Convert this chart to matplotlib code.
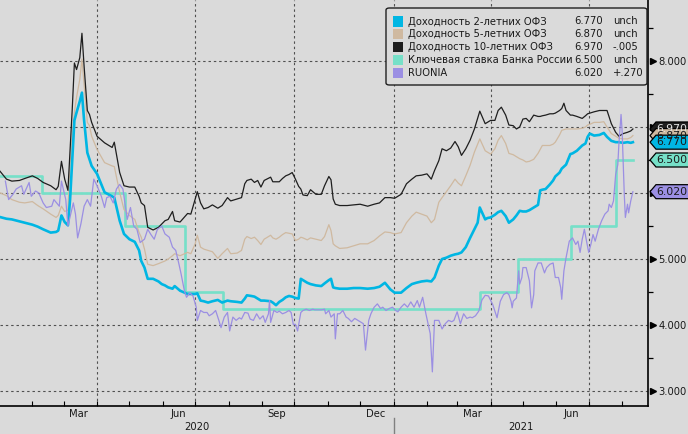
import matplotlib
matplotlib.use("Agg")
import matplotlib.pyplot as plt
import matplotlib.dates as mdates
import matplotlib.transforms as mtransforms
from matplotlib.patches import Polygon, FancyBboxPatch, Rectangle
from matplotlib.lines import Line2D
from matplotlib.ticker import FixedLocator, NullFormatter
import pandas as pd

# ---------------- data ----------------
yield_dates = [
    "2020-01-01", "2020-01-08", "2020-01-13", "2020-01-20", "2020-01-25", "2020-02-01",
    "2020-02-06", "2020-02-11", "2020-02-18", "2020-02-23", "2020-02-25", "2020-02-28",
    "2020-03-02", "2020-03-05", "2020-03-07", "2020-03-09", "2020-03-11", "2020-03-13",
    "2020-03-16", "2020-03-18", "2020-03-20", "2020-03-23", "2020-03-25", "2020-03-27",
    "2020-04-01", "2020-04-08", "2020-04-15", "2020-04-17", "2020-04-22", "2020-04-26",
    "2020-05-01", "2020-05-06", "2020-05-10", "2020-05-12", "2020-05-15", "2020-05-18",
    "2020-05-23", "2020-05-28", "2020-05-31", "2020-06-03", "2020-06-06", "2020-06-10",
    "2020-06-12", "2020-06-17", "2020-06-24", "2020-06-27", "2020-07-01", "2020-07-03",
    "2020-07-06", "2020-07-09", "2020-07-13", "2020-07-17", "2020-07-22", "2020-07-26",
    "2020-07-31", "2020-08-03", "2020-08-09", "2020-08-13", "2020-08-16", "2020-08-18",
    "2020-08-22", "2020-08-25", "2020-08-28", "2020-08-31", "2020-09-03", "2020-09-09",
    "2020-09-11", "2020-09-14", "2020-09-17", "2020-09-20", "2020-09-23", "2020-09-26",
    "2020-09-29", "2020-10-02", "2020-10-05", "2020-10-07", "2020-10-09", "2020-10-13",
    "2020-10-16", "2020-10-21", "2020-10-26", "2020-10-29", "2020-11-02", "2020-11-04",
    "2020-11-06", "2020-11-08", "2020-11-12", "2020-11-19", "2020-11-25", "2020-12-01",
    "2020-12-08", "2020-12-14", "2020-12-19", "2020-12-24", "2020-12-29", "2021-01-02",
    "2021-01-08", "2021-01-13", "2021-01-18", "2021-01-22", "2021-01-27", "2021-02-01",
    "2021-02-05", "2021-02-08", "2021-02-12", "2021-02-15", "2021-02-19", "2021-02-23",
    "2021-02-27", "2021-03-02", "2021-03-05", "2021-03-09", "2021-03-13", "2021-03-17",
    "2021-03-20", "2021-03-22", "2021-03-27", "2021-03-29", "2021-04-01", "2021-04-05",
    "2021-04-08", "2021-04-11", "2021-04-15", "2021-04-18", "2021-04-22", "2021-04-25",
    "2021-04-28", "2021-05-01", "2021-05-04", "2021-05-07", "2021-05-11", "2021-05-15",
    "2021-05-17", "2021-05-19", "2021-05-22", "2021-05-26", "2021-05-29", "2021-05-31",
    "2021-06-04", "2021-06-06", "2021-06-08", "2021-06-10", "2021-06-14", "2021-06-16",
    "2021-06-20", "2021-06-25", "2021-06-28", "2021-06-30", "2021-07-02", "2021-07-06",
    "2021-07-11", "2021-07-15", "2021-07-18", "2021-07-22", "2021-07-26", "2021-07-29",
    "2021-08-02", "2021-08-06", "2021-08-09", "2021-08-11",
]
ofz_2y = [
    5.64, 5.61, 5.60, 5.57, 5.55, 5.52, 5.49, 5.45, 5.40, 5.41, 5.43, 5.66,
    5.56, 5.51, 5.90, 6.51, 7.10, 7.22, 7.39, 7.52, 7.10, 6.61, 6.51, 6.41,
    6.29, 6.01, 5.95, 5.93, 5.58, 5.38, 5.30, 5.26, 5.13, 4.97, 4.87, 4.70,
    4.70, 4.66, 4.62, 4.60, 4.57, 4.55, 4.59, 4.52, 4.47, 4.47, 4.47, 4.48,
    4.37, 4.36, 4.34, 4.36, 4.38, 4.34, 4.37, 4.36, 4.35, 4.34, 4.40, 4.45,
    4.44, 4.43, 4.40, 4.37, 4.37, 4.36, 4.34, 4.30, 4.35, 4.38, 4.42, 4.44,
    4.43, 4.41, 4.40, 4.70, 4.68, 4.64, 4.62, 4.60, 4.59, 4.63, 4.68, 4.70,
    4.57, 4.56, 4.55, 4.55, 4.56, 4.56, 4.55, 4.56, 4.58, 4.64, 4.54, 4.49,
    4.49, 4.56, 4.62, 4.64, 4.66, 4.67, 4.66, 4.72, 4.90, 5.00, 5.02, 5.05,
    5.07, 5.08, 5.10, 5.18, 5.32, 5.45, 5.55, 5.78, 5.60, 5.62, 5.63, 5.67,
    5.71, 5.73, 5.65, 5.55, 5.60, 5.66, 5.73, 5.72, 5.72, 5.74, 5.78, 5.82,
    6.04, 6.05, 6.06, 6.13, 6.19, 6.25, 6.31, 6.37, 6.40, 6.43, 6.59, 6.60,
    6.64, 6.72, 6.75, 6.85, 6.90, 6.87, 6.88, 6.91, 6.85, 6.79, 6.77, 6.77,
    6.76, 6.77, 6.76, 6.77,
]
ofz_5y = [
    6.01, 5.96, 5.90, 5.86, 5.85, 5.87, 5.81, 5.76, 5.68, 5.63, 5.66, 5.80,
    5.72, 5.74, 6.41, 6.86, 7.22, 7.45, 7.72, 8.03, 7.65, 7.07, 7.02, 6.86,
    6.66, 6.46, 6.41, 6.40, 6.01, 5.75, 5.66, 5.60, 5.40, 5.33, 5.15, 4.92,
    4.90, 4.93, 4.95, 4.97, 5.00, 5.05, 5.08, 5.05, 5.10, 5.08, 5.23, 5.36,
    5.18, 5.15, 5.13, 5.11, 5.01, 5.08, 5.16, 5.08, 5.09, 5.13, 5.30, 5.34,
    5.31, 5.33, 5.28, 5.22, 5.30, 5.36, 5.32, 5.30, 5.33, 5.37, 5.40, 5.39,
    5.38, 5.28, 5.30, 5.33, 5.32, 5.29, 5.32, 5.30, 5.28, 5.34, 5.52, 5.43,
    5.23, 5.20, 5.16, 5.17, 5.20, 5.23, 5.23, 5.28, 5.35, 5.41, 5.40, 5.38,
    5.40, 5.55, 5.65, 5.71, 5.68, 5.65, 5.55, 5.60, 5.86, 5.93, 6.02, 6.11,
    6.21, 6.15, 6.11, 6.26, 6.42, 6.62, 6.74, 6.82, 6.64, 6.62, 6.59, 6.67,
    6.80, 6.87, 6.75, 6.60, 6.58, 6.55, 6.52, 6.50, 6.47, 6.48, 6.51, 6.60,
    6.66, 6.72, 6.72, 6.72, 6.74, 6.77, 6.88, 6.95, 6.96, 6.97, 6.97, 6.97,
    6.97, 6.98, 7.00, 7.03, 7.04, 7.07, 7.07, 7.08, 7.00, 6.90, 6.86, 6.83,
    6.82, 6.82, 6.84, 6.87,
]
ofz_10y = [
    6.35, 6.21, 6.18, 6.19, 6.22, 6.26, 6.22, 6.16, 6.11, 6.05, 6.10, 6.48,
    6.21, 6.04, 6.66, 7.27, 7.97, 7.87, 8.05, 8.42, 7.92, 7.25, 7.19, 7.07,
    6.86, 6.76, 6.69, 6.77, 6.31, 6.11, 6.09, 6.09, 5.95, 5.85, 5.81, 5.48,
    5.44, 5.48, 5.53, 5.58, 5.60, 5.72, 5.58, 5.56, 5.69, 5.68, 5.91, 6.02,
    5.85, 5.76, 5.78, 5.82, 5.77, 5.81, 5.93, 5.88, 5.91, 5.93, 6.14, 6.19,
    6.21, 6.16, 6.19, 6.09, 6.19, 6.24, 6.17, 6.17, 6.17, 6.22, 6.26, 6.28,
    6.31, 6.21, 6.10, 6.06, 5.97, 5.96, 6.05, 5.98, 5.98, 6.11, 6.25, 6.20,
    5.91, 5.83, 5.81, 5.81, 5.82, 5.83, 5.80, 5.83, 5.85, 5.93, 5.93, 5.92,
    5.98, 6.14, 6.21, 6.26, 6.27, 6.29, 6.21, 6.34, 6.49, 6.67, 6.64, 6.68,
    6.78, 6.70, 6.57, 6.67, 6.80, 6.97, 7.13, 7.24, 7.05, 7.07, 7.10, 7.10,
    7.25, 7.30, 7.18, 7.03, 7.02, 6.97, 7.00, 7.12, 7.13, 7.08, 7.18, 7.16,
    7.16, 7.17, 7.18, 7.20, 7.20, 7.21, 7.25, 7.28, 7.36, 7.25, 7.18, 7.18,
    7.16, 7.13, 7.17, 7.20, 7.21, 7.23, 7.25, 7.25, 7.25, 7.05, 6.92, 6.86,
    6.90, 6.92, 6.94, 6.97,
]

key_rate_dates = ["2020-01-01", "2020-02-10", "2020-04-27", "2020-06-22", "2020-07-27",
                  "2021-03-22", "2021-04-26", "2021-06-15", "2021-07-26", "2021-08-11"]
key_rate = [6.25, 6.00, 5.50, 4.50, 4.25, 4.50, 5.00, 5.50, 6.50, 6.50]

ruonia_dates = [
    "2020-01-07", "2020-01-10", "2020-01-14", "2020-01-17", "2020-01-22", "2020-01-24",
    "2020-01-29", "2020-01-31", "2020-02-04", "2020-02-07", "2020-02-11", "2020-02-14",
    "2020-02-19", "2020-02-21", "2020-02-26", "2020-02-28", "2020-03-03", "2020-03-05",
    "2020-03-10", "2020-03-12", "2020-03-14", "2020-03-17", "2020-03-20", "2020-03-23",
    "2020-03-26", "2020-03-29", "2020-04-01", "2020-04-05", "2020-04-08", "2020-04-10",
    "2020-04-13", "2020-04-16", "2020-04-19", "2020-04-22", "2020-04-25", "2020-04-29",
    "2020-05-02", "2020-05-05", "2020-05-08", "2020-05-11", "2020-05-15", "2020-05-18",
    "2020-05-21", "2020-05-24", "2020-05-27", "2020-05-31", "2020-06-03", "2020-06-07",
    "2020-06-10", "2020-06-13", "2020-06-16", "2020-06-18", "2020-06-21", "2020-06-23",
    "2020-06-26", "2020-06-29", "2020-07-02", "2020-07-03", "2020-07-06", "2020-07-09",
    "2020-07-12", "2020-07-14", "2020-07-17", "2020-07-20", "2020-07-23", "2020-07-25",
    "2020-07-28", "2020-07-31", "2020-08-02", "2020-08-05", "2020-08-08", "2020-08-11",
    "2020-08-13", "2020-08-16", "2020-08-19", "2020-08-21", "2020-08-24", "2020-08-27",
    "2020-08-30", "2020-09-02", "2020-09-04", "2020-09-07", "2020-09-08", "2020-09-09",
    "2020-09-12", "2020-09-15", "2020-09-17", "2020-09-20", "2020-09-23", "2020-09-26",
    "2020-09-28", "2020-09-30", "2020-10-02", "2020-10-04", "2020-10-07", "2020-10-09",
    "2020-10-12", "2020-10-15", "2020-10-18", "2020-10-20", "2020-10-23", "2020-10-26",
    "2020-10-29", "2020-10-30", "2020-11-02", "2020-11-04", "2020-11-07", "2020-11-08",
    "2020-11-10", "2020-11-12", "2020-11-15", "2020-11-18", "2020-11-20", "2020-11-23",
    "2020-11-26", "2020-11-29", "2020-12-01", "2020-12-04", "2020-12-06", "2020-12-09",
    "2020-12-11", "2020-12-14", "2020-12-17", "2020-12-20", "2020-12-22", "2020-12-25",
    "2020-12-28", "2020-12-31", "2021-01-03", "2021-01-05", "2021-01-08", "2021-01-11",
    "2021-01-14", "2021-01-17", "2021-01-20", "2021-01-23", "2021-01-25", "2021-01-28",
    "2021-01-31", "2021-02-02", "2021-02-04", "2021-02-06", "2021-02-08", "2021-02-12",
    "2021-02-15", "2021-02-18", "2021-02-21", "2021-02-24", "2021-02-26", "2021-03-01",
    "2021-03-04", "2021-03-07", "2021-03-10", "2021-03-13", "2021-03-15", "2021-03-18",
    "2021-03-21", "2021-03-24", "2021-03-27", "2021-03-30", "2021-04-03", "2021-04-05",
    "2021-04-07", "2021-04-10", "2021-04-13", "2021-04-16", "2021-04-18", "2021-04-20",
    "2021-04-21", "2021-04-22", "2021-04-25", "2021-04-27", "2021-04-28", "2021-04-30",
    "2021-05-01", "2021-05-04", "2021-05-07", "2021-05-09", "2021-05-11", "2021-05-12",
    "2021-05-15", "2021-05-18", "2021-05-21", "2021-05-23", "2021-05-26", "2021-05-29",
    "2021-05-31", "2021-06-03", "2021-06-05", "2021-06-06", "2021-06-08", "2021-06-10",
    "2021-06-13", "2021-06-16", "2021-06-19", "2021-06-21", "2021-06-23", "2021-06-25",
    "2021-06-27", "2021-06-29", "2021-07-01", "2021-07-03", "2021-07-05", "2021-07-07",
    "2021-07-10", "2021-07-13", "2021-07-16", "2021-07-19", "2021-07-20", "2021-07-22",
    "2021-07-24", "2021-07-26", "2021-07-28", "2021-07-29", "2021-07-31", "2021-08-01",
    "2021-08-03", "2021-08-04", "2021-08-06", "2021-08-07", "2021-08-09", "2021-08-11",
]
ruonia = [
    6.18, 5.90, 5.98, 6.06, 6.11, 5.98, 6.16, 5.95, 6.03, 6.00, 5.85, 5.78,
    5.80, 5.90, 5.80, 6.18, 5.90, 5.50, 5.85, 5.68, 5.32, 5.53, 5.80, 5.90,
    5.80, 6.21, 6.11, 5.95, 5.78, 5.93, 5.95, 5.85, 6.06, 6.13, 6.06, 5.60,
    5.78, 5.50, 5.45, 5.25, 5.30, 5.45, 5.37, 5.30, 5.45, 5.50, 5.38, 5.33,
    5.18, 5.13, 4.92, 4.77, 4.52, 4.42, 4.49, 4.44, 4.27, 4.07, 4.22, 4.19,
    4.19, 4.14, 4.17, 4.22, 4.07, 3.96, 4.12, 4.19, 3.91, 4.12, 4.07, 4.11,
    4.09, 4.19, 4.18, 4.09, 4.07, 4.17, 4.09, 4.14, 4.04, 4.17, 4.37, 4.04,
    4.22, 4.19, 4.21, 4.17, 4.19, 4.22, 4.19, 4.01, 4.01, 3.91, 4.19, 4.22,
    4.24, 4.22, 4.24, 4.23, 4.23, 4.23, 4.24, 4.17, 4.22, 4.12, 4.17, 3.79,
    4.17, 4.17, 4.22, 4.12, 4.10, 4.05, 4.10, 4.07, 4.05, 4.02, 3.62, 4.07,
    4.17, 4.27, 4.32, 4.25, 4.27, 4.22, 4.25, 4.27, 4.22, 4.20, 4.27, 4.32,
    4.27, 4.35, 4.27, 4.37, 4.27, 4.42, 4.17, 4.02, 3.87, 3.29, 4.07, 4.07,
    3.94, 4.02, 4.07, 4.05, 4.07, 4.20, 4.02, 4.17, 4.10, 4.12, 4.11, 4.14,
    4.21, 4.38, 4.45, 4.44, 4.31, 4.21, 4.11, 4.36, 4.46, 4.49, 4.46, 4.36,
    4.26, 4.36, 4.41, 4.82, 4.62, 4.72, 4.87, 4.87, 4.67, 4.26, 4.46, 4.82,
    4.94, 4.94, 4.79, 4.87, 4.92, 4.94, 4.72, 4.72, 4.57, 4.39, 4.82, 5.02,
    5.27, 5.32, 5.22, 5.27, 5.10, 5.30, 5.45, 5.27, 5.10, 5.22, 5.37, 5.27,
    5.45, 5.58, 5.68, 5.73, 5.83, 5.78, 5.88, 6.28, 6.43, 6.74, 7.19, 6.94,
    5.98, 5.63, 5.83, 5.70, 5.88, 6.02,
]

legend_names = ["Доходность 2-летних ОФЗ", "Доходность 5-летних ОФЗ",
                "Доходность 10-летних ОФЗ", "Ключевая ставка Банка России", "RUONIA"]
legend_values = ["6.770", "6.870", "6.970", "6.500", "6.020"]
legend_changes = ["unch", "unch", "-.005", "unch", "+.270"]
last_values = [6.77, 6.87, 6.97, 6.50, 6.02]

y_ticks = [3, 4, 5, 6, 7, 8]
y_tick_labels = ["3.000", "4.000", "5.000", "", "", "8.000"]  # 6 and 7 sit under the value tags
month_labels_at = [3, 6, 9, 12]

# ---------------- style ----------------
BG = "#dadada"
C_2Y = "#00b6e3"
C_5Y = "#cfb9a0"
C_10Y = "#1e1e1e"
C_KEY = "#76e0c8"
C_RUO = "#9b8fe3"
GRID = "#505050"
TXT = "#1a1a1a"
FS = 7.2
colors = [C_2Y, C_5Y, C_10Y, C_KEY, C_RUO]

plt.rcParams["font.family"] = ["DejaVu Sans"]

W, H = 688, 434
fig = plt.figure(figsize=(W / 100, H / 100), dpi=100, facecolor=BG)
ax = fig.add_axes([0, 28 / H, 648 / W, 406 / H], facecolor=BG)

yd = pd.to_datetime(yield_dates)
rd = pd.to_datetime(ruonia_dates)
kd = pd.to_datetime(key_rate_dates)

ax.plot(kd, key_rate, drawstyle="steps-post", color=C_KEY, lw=1.9, zorder=3)
ax.plot(yd, ofz_5y, color=C_5Y, lw=0.9, zorder=4)
ax.plot(yd, ofz_10y, color=C_10Y, lw=0.9, zorder=5)
ax.plot(yd, ofz_2y, color=C_2Y, lw=1.9, zorder=6)
ax.plot(rd, ruonia, color=C_RUO, lw=0.9, zorder=7)

x0 = pd.Timestamp("2020-01-02")
x1 = pd.Timestamp("2021-08-25")
ax.set_xlim(x0, x1)
ax.set_ylim(2.773, 8.924)

for s in ["left", "top"]:
    ax.spines[s].set_visible(False)
for s in ["right", "bottom"]:
    ax.spines[s].set_color("black")
    ax.spines[s].set_linewidth(1.2)

# grid
dash = (0, (2.2, 2.6))
for y in y_ticks:
    ax.axhline(y, color=GRID, lw=0.8, ls=dash, zorder=1)
for q in pd.date_range("2020-04-01", "2021-07-01", freq="QS"):
    ax.axvline(q, color=GRID, lw=0.8, ls=dash, zorder=1)

# x axis
ax.xaxis.set_major_locator(mdates.MonthLocator())
ax.xaxis.set_major_formatter(NullFormatter())
ax.xaxis.set_minor_locator(mdates.MonthLocator(bymonth=month_labels_at, bymonthday=15))
ax.xaxis.set_minor_formatter(mdates.DateFormatter("%b"))
ax.tick_params(axis="x", which="major", direction="in", length=3.5, width=0.8, color="black")
ax.tick_params(axis="x", which="minor", length=0, pad=2.5, labelsize=FS, labelcolor=TXT)

yr_tr = mtransforms.blended_transform_factory(ax.transData, ax.transAxes)
sep = pd.Timestamp("2021-01-01")
ax.text(x0 + (sep - x0) / 2, -0.052, "2020", transform=yr_tr, ha="center", va="center",
        fontsize=FS, color=TXT)
ax.text(sep + (x1 - sep) / 2, -0.052, "2021", transform=yr_tr, ha="center", va="center",
        fontsize=FS, color=TXT)
ax.add_line(Line2D([sep, sep], [-0.03, -0.075], transform=yr_tr, color="#808080", lw=1.0,
                   clip_on=False))

# y axis on the right
ax.yaxis.tick_right()
ax.yaxis.set_major_locator(FixedLocator(y_ticks))
ax.set_yticklabels(y_tick_labels)
ax.yaxis.set_minor_locator(FixedLocator([v + 0.5 for v in [2, 3, 4, 5, 6, 7, 8]]))
ax.tick_params(axis="y", which="major", length=0, pad=7.5, labelsize=FS, labelcolor=TXT)
ax.tick_params(axis="y", which="minor", direction="out", length=3.5, width=0.9, color="black")
tri_tr = mtransforms.blended_transform_factory(ax.transAxes, ax.transData)
ax.plot([1 + 4.5 / 648] * len(y_ticks), y_ticks, ls="none", marker=">", ms=5, color="black",
        transform=tri_tr, clip_on=False, zorder=8)

# right-hand value tags (drawn 10y, 5y, 2y, key rate, RUONIA so 2y sits on top)
tag_face = {0: C_2Y, 1: C_5Y, 2: C_10Y, 3: C_KEY, 4: C_RUO}
tag_text = {0: TXT, 1: TXT, 2: "#e8e8e8", 3: TXT, 4: TXT}
for i in [2, 1, 0, 3, 4]:
    v = last_values[i]
    yp = ax.transData.transform((mdates.date2num(x0), v))[1]
    pts = [(650, yp), (656, yp + 7), (692, yp + 7), (692, yp - 7), (656, yp - 7)]
    pts = [(px / W, py / H) for px, py in pts]
    fig.add_artist(Polygon(pts, closed=True, facecolor=tag_face[i], edgecolor="black", lw=0.9,
                           transform=fig.transFigure, zorder=10))
    fig.text(656 / W, yp / H, legend_values[i], ha="left", va="center", fontsize=FS + 0.6,
             color=tag_text[i], zorder=11)

# legend box
lx0, lx1, ly0, ly1 = 386, 647, 8, 85
fig.add_artist(FancyBboxPatch((lx0 / W, 1 - ly1 / H), (lx1 - lx0) / W, (ly1 - ly0) / H,
                              boxstyle="round,pad=0,rounding_size=0.005",
                              facecolor=BG, edgecolor="#202020", lw=1.0,
                              transform=fig.transFigure, zorder=9))
row_y = [21.5, 34.3, 47.1, 59.9, 72.7]
for i, name in enumerate(legend_names):
    yy = 1 - row_y[i] / H
    fig.add_artist(Rectangle((393 / W, yy - 5 / H), 10 / W, 10 / H, facecolor=colors[i],
                             edgecolor="none", transform=fig.transFigure, zorder=10))
    fig.text(408 / W, yy, name, ha="left", va="center", fontsize=FS, color=TXT, zorder=11)
    fig.text(603 / W, yy, legend_values[i], ha="right", va="center", fontsize=FS,
             color=TXT, zorder=11)
    fig.text(613 / W, yy, legend_changes[i], ha="left", va="center", fontsize=FS,
             color=TXT, zorder=11)

fig.savefig("out.png", dpi=100, facecolor=BG)
